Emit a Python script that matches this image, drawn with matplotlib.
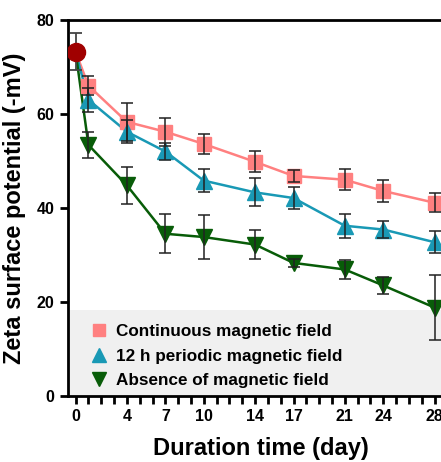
import numpy as np
import matplotlib
matplotlib.use('Agg')
import matplotlib.pyplot as plt
from matplotlib.patches import Rectangle

plt.rcParams['font.family'] = ['Liberation Sans', 'DejaVu Sans']
plt.rcParams['font.weight'] = 'bold'

days = [0, 1, 4, 7, 10, 14, 17, 21, 24, 28]
labeled_days = [0, 4, 7, 10, 14, 17, 21, 24, 28]

start_val = 73.2
start_err = 3.9

cont = [73.2, 66.0, 58.3, 56.2, 53.6, 49.8, 46.8, 46.0, 43.6, 41.1]
cont_err = [3.9, 2.0, 4.0, 3.0, 2.1, 2.2, 1.2, 2.2, 2.3, 2.0]

periodic = [73.2, 63.0, 56.2, 52.0, 45.8, 43.3, 42.1, 36.2, 35.4, 32.7]
periodic_err = [3.9, 2.5, 2.5, 1.8, 2.4, 3.0, 2.4, 2.5, 1.9, 2.4]

absence = [73.2, 53.4, 44.8, 34.5, 33.8, 32.2, 28.3, 26.9, 23.5, 18.8]
absence_err = [3.9, 2.8, 4.0, 4.2, 4.7, 3.1, 0.9, 2.0, 1.9, 6.9]

labels = ['Continuous magnetic field', '12 h periodic magnetic field',
          'Absence of magnetic field']

fig = plt.figure(figsize=(4.41, 4.62), dpi=100)
ax = fig.add_axes([0.154, 0.143, 0.875, 0.814])

series = [
    (cont, cont_err, '#ff8080', 's', 10, labels[0]),
    (periodic, periodic_err, '#1999b5', '^', 11.5, labels[1]),
    (absence, absence_err, '#085c08', 'v', 11.5, labels[2]),
]

for vals, errs, col, mk, ms, lab in series:
    ax.plot(days, vals, color=col, lw=1.8, zorder=2)
    ax.plot(days[1:], vals[1:], ls='none', marker=mk, ms=ms, color=col,
            label=lab, zorder=3)
    ax.errorbar(days[1:], vals[1:], yerr=errs[1:], fmt='none', ecolor='#222222',
                elinewidth=1.3, capsize=4.5, capthick=1.3, alpha=0.85, zorder=4)

ax.errorbar([0], [start_val], yerr=[start_err], fmt='none', ecolor='#444444',
            elinewidth=1.3, capsize=4.5, capthick=1.3, zorder=4)
ax.plot([0], [start_val], marker='o', ms=13, color='#a00000', ls='none', zorder=5)

# grey legend background band
ax.add_patch(Rectangle((0, 0), 1, 18.3 / 80, transform=ax.transAxes,
                       facecolor='#f0f0f0', edgecolor='none', zorder=0))

ax.set_xlim(-0.6, 29.5)
ax.set_ylim(0, 80)
ax.set_yticks([0, 20, 40, 60, 80])
ax.set_xticks(labeled_days)
ax.set_xticks(range(0, 30), minor=True)

for s in ['top', 'bottom', 'left', 'right']:
    ax.spines[s].set_linewidth(2)
ax.tick_params(axis='both', which='both', width=2, length=6, labelsize=11.5)
ax.tick_params(axis='x', which='minor', length=6)
for t in ax.get_xticklabels() + ax.get_yticklabels():
    t.set_fontweight('bold')

ax.set_xlabel('Duration time (day)', fontsize=17, fontweight='bold', labelpad=9)
ax.set_ylabel('Zeta surface potential (-mV)', fontsize=17, fontweight='bold', labelpad=8)

leg = ax.legend(loc='lower left', bbox_to_anchor=(0.015, -0.02), frameon=False,
                fontsize=12.3, handletextpad=0.4, labelspacing=0.55, handlelength=1.2,
                markerscale=0.9)
for t in leg.get_texts():
    t.set_fontweight('bold')

fig.savefig('out.png', dpi=100)
